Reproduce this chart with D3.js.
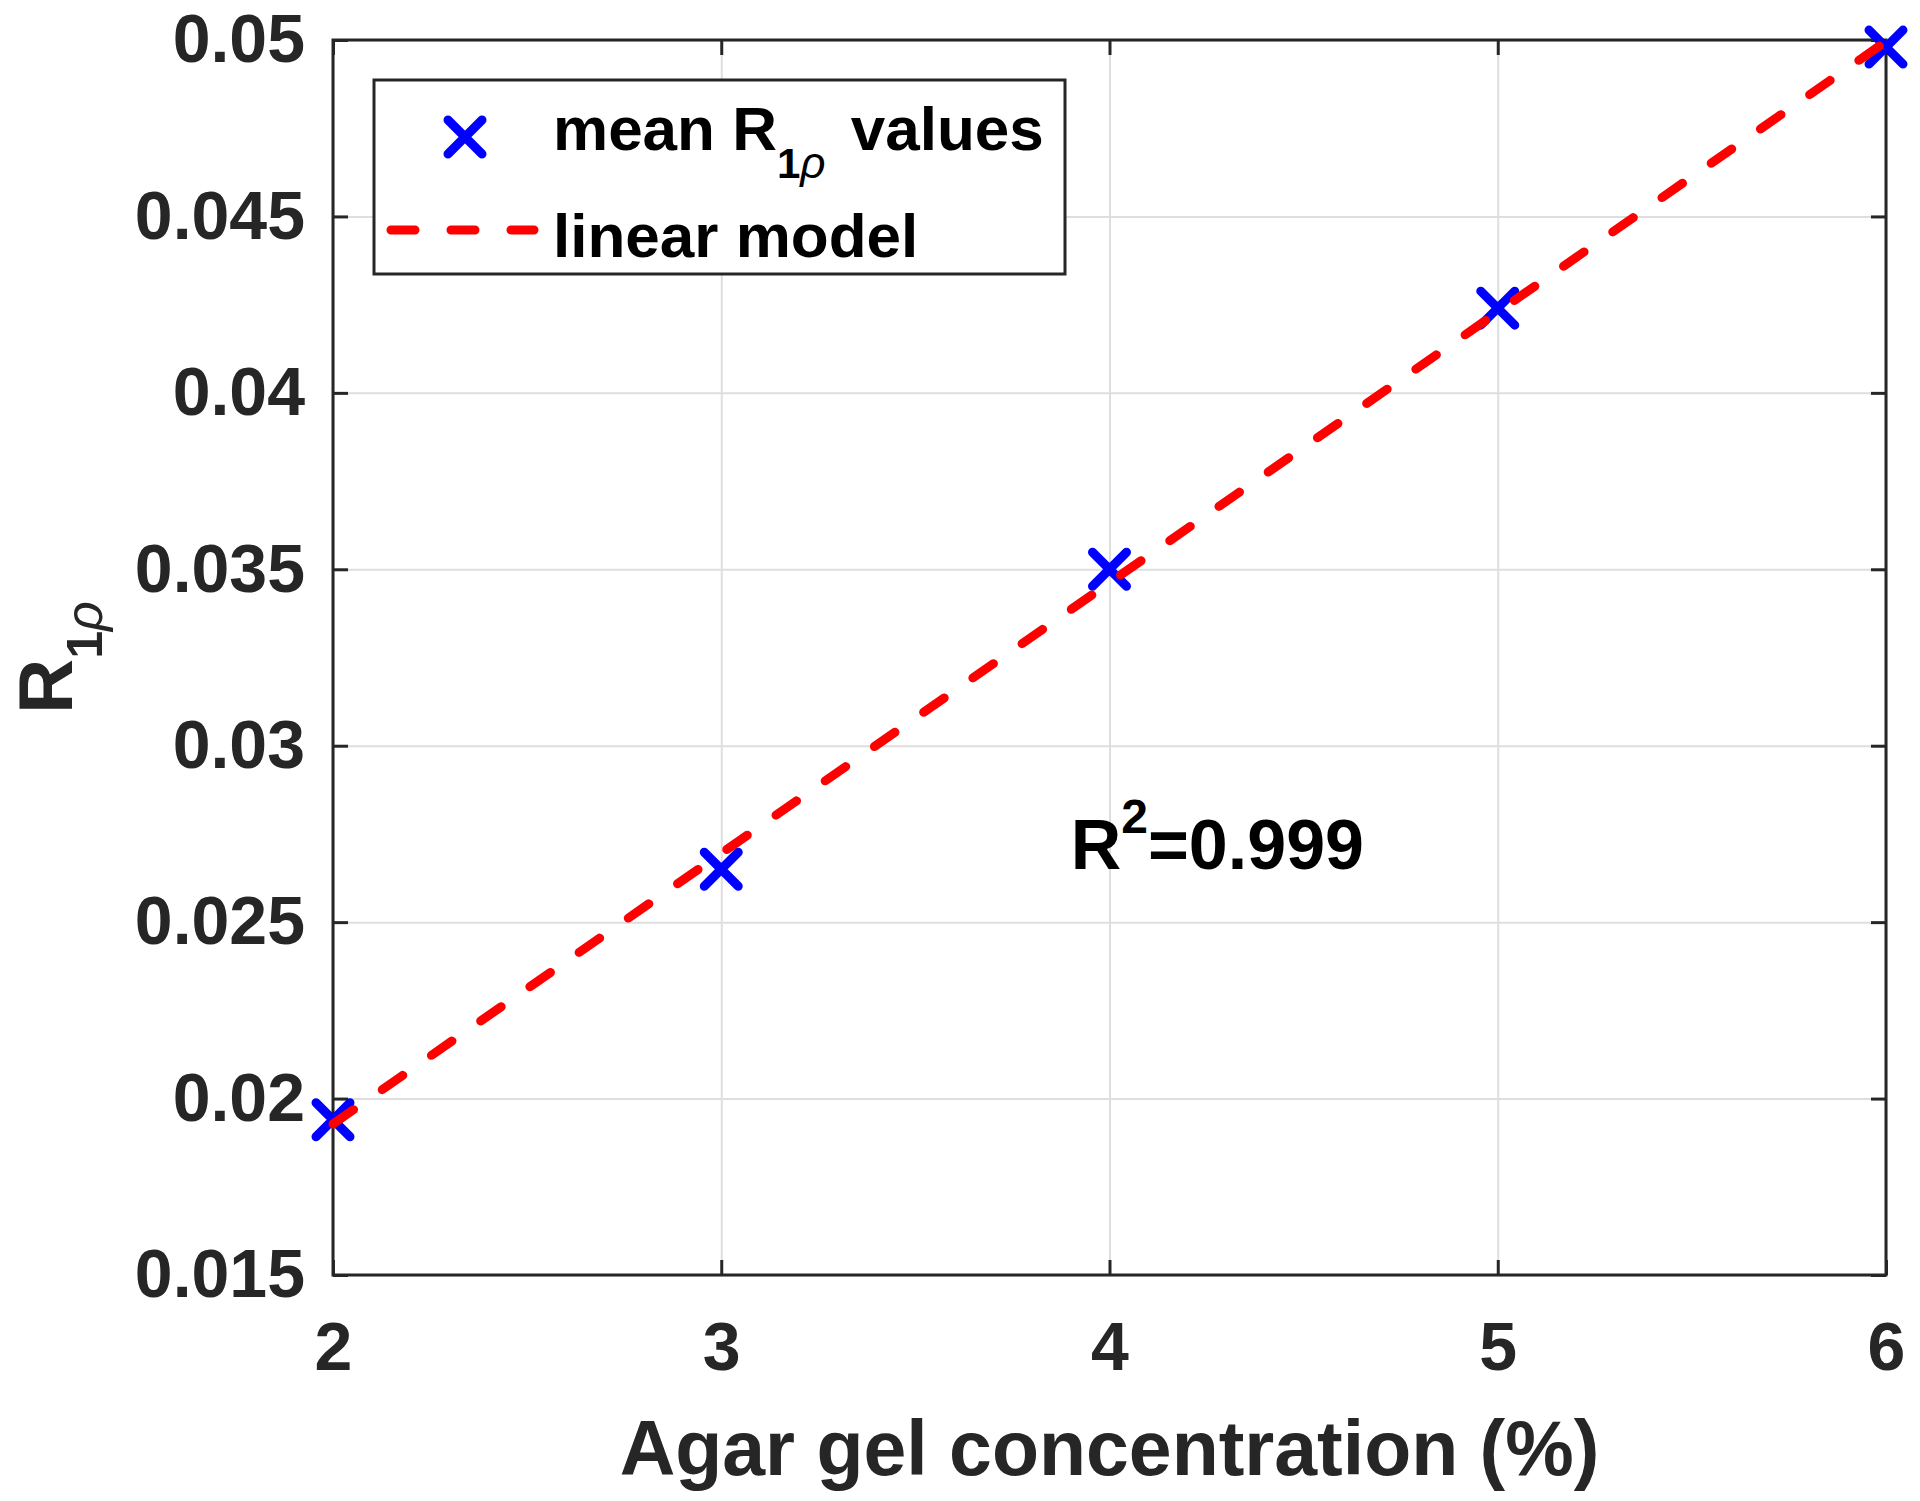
<!DOCTYPE html>
<html>
<head>
<meta charset="utf-8">
<script src="https://cdn.jsdelivr.net/npm/d3@7"></script>
<style>
  html, body { margin: 0; padding: 0; background: #fff; }
  svg { display: block; }
</style>
</head>
<body>
<div id="chart"></div>
<script>
// Agar gel concentration vs mean R1rho, with linear fit
const concentrations = [2, 3, 4, 5, 6];
const meanR1rho = [0.0194, 0.0265, 0.0350, 0.0424, 0.0498];
const xTicks = [2, 3, 4, 5, 6];
const yTicks = [0.015, 0.02, 0.025, 0.03, 0.035, 0.04, 0.045, 0.05];
const yTickLabels = ['0.015', '0.02', '0.025', '0.03', '0.035', '0.04', '0.045', '0.05'];
const r2Text = ['R', '2', '=0.999'];

const width = 1920, height = 1501;
const margin = { top: 40, right: 34, bottom: 226, left: 333 };
const innerW = width - margin.left - margin.right;
const innerH = height - margin.top - margin.bottom;
const font = "'Liberation Sans', Arial, Helvetica, sans-serif";
const axisColor = '#262626';

const svg = d3.select('#chart')
    .append('svg')
    .attr('width', width)
    .attr('height', height)
    .style('background', '#fff');

const g = svg.append('g').attr('transform', `translate(${margin.left},${margin.top})`);

const x = d3.scaleLinear().domain([2, 6]).range([0, innerW]);
const y = d3.scaleLinear().domain([0.015, 0.05]).range([innerH, 0]);

// grid
g.append('g')
    .attr('transform', `translate(0,${innerH})`)
    .call(d3.axisBottom(x).tickValues(xTicks).tickSize(-innerH).tickFormat(''))
    .call(s => s.select('.domain').remove())
    .selectAll('line').attr('stroke', '#dedede').attr('stroke-width', 2);
g.append('g')
    .call(d3.axisLeft(y).tickValues(yTicks).tickSize(-innerW).tickFormat(''))
    .call(s => s.select('.domain').remove())
    .selectAll('line').attr('stroke', '#dedede').attr('stroke-width', 2);

// axes with inward ticks on all sides
const tickLen = 15;
function styleAxis(sel) {
    sel.select('.domain').remove();
    sel.selectAll('line').attr('stroke', axisColor).attr('stroke-width', 3);
    sel.selectAll('text')
        .attr('fill', axisColor)
        .attr('font-family', font)
        .attr('font-weight', 'bold')
        .attr('font-size', 68);
}
g.append('g')
    .attr('transform', `translate(0,${innerH})`)
    .call(d3.axisBottom(x).tickValues(xTicks).tickSize(-tickLen).tickPadding(47).tickFormat(d3.format('d')))
    .call(styleAxis);
g.append('g')
    .call(d3.axisTop(x).tickValues(xTicks).tickSize(-tickLen).tickFormat(''))
    .call(styleAxis);
g.append('g')
    .call(d3.axisLeft(y).tickValues(yTicks).tickSize(-tickLen).tickPadding(28)
        .tickFormat((d, i) => yTickLabels[i]))
    .call(styleAxis);
g.append('g')
    .attr('transform', `translate(${innerW},0)`)
    .call(d3.axisRight(y).tickValues(yTicks).tickSize(-tickLen).tickFormat(''))
    .call(styleAxis);

g.append('rect')
    .attr('width', innerW).attr('height', innerH)
    .attr('fill', 'none')
    .attr('stroke', axisColor)
    .attr('stroke-width', 3);

// linear least-squares fit
const mx = d3.mean(concentrations), my = d3.mean(meanR1rho);
const slope = d3.sum(concentrations, (c, i) => (c - mx) * (meanR1rho[i] - my)) /
    d3.sum(concentrations, c => (c - mx) * (c - mx));
const intercept = my - slope * mx;

// markers
function cross(sel, cx, cy, s) {
    sel.append('path')
        .attr('d', `M${cx - s},${cy - s}L${cx + s},${cy + s}M${cx - s},${cy + s}L${cx + s},${cy - s}`)
        .attr('stroke', '#0000ff')
        .attr('stroke-width', 9)
        .attr('stroke-linecap', 'round')
        .attr('fill', 'none');
}
concentrations.forEach((c, i) => cross(g, x(c), y(meanR1rho[i]), 17));

// model line
const line = d3.line().x(d => x(d)).y(d => y(intercept + slope * d));
g.append('path')
    .datum(d3.extent(concentrations))
    .attr('d', line)
    .attr('fill', 'none')
    .attr('stroke', '#ff0000')
    .attr('stroke-width', 9)
    .attr('stroke-dasharray', '25,35')
    .attr('stroke-linecap', 'round');

// R^2 annotation
const r2 = g.append('text')
    .attr('x', x(3.9))
    .attr('y', y(0.0265))
    .attr('font-family', font)
    .attr('font-weight', 'bold')
    .attr('font-size', 70)
    .attr('fill', '#000');
r2.append('tspan').text(r2Text[0]);
r2.append('tspan').attr('font-size', 48).attr('dy', -36).text(r2Text[1]);
r2.append('tspan').attr('dy', 36).text(r2Text[2]);

// legend
const leg = svg.append('g');
leg.append('rect')
    .attr('x', 374).attr('y', 80)
    .attr('width', 691).attr('height', 194)
    .attr('fill', '#fff')
    .attr('stroke', axisColor)
    .attr('stroke-width', 3);
cross(leg, 465, 137, 17);
leg.append('line')
    .attr('x1', 391).attr('x2', 534)
    .attr('y1', 230).attr('y2', 230)
    .attr('stroke', '#ff0000')
    .attr('stroke-width', 9)
    .attr('stroke-dasharray', '24,36')
    .attr('stroke-linecap', 'round');
const t1 = leg.append('text')
    .attr('x', 553).attr('y', 150)
    .attr('font-family', font).attr('font-weight', 'bold')
    .attr('font-size', 62).attr('fill', '#000');
t1.append('tspan').text('mean R');
t1.append('tspan').attr('font-size', 42).attr('dy', 28).text('1');
t1.append('tspan').attr('font-size', 44).attr('font-style', 'italic').attr('font-weight', 'normal').text('ρ');
t1.append('tspan').attr('dy', -28).attr('dx', 8).text(' values');
leg.append('text')
    .attr('x', 553).attr('y', 257)
    .attr('font-family', font).attr('font-weight', 'bold')
    .attr('font-size', 62).attr('fill', '#000')
    .text('linear model');

// axis titles
svg.append('text')
    .attr('x', margin.left + innerW / 2)
    .attr('y', 1475)
    .attr('text-anchor', 'middle')
    .attr('font-family', font).attr('font-weight', 'bold')
    .attr('font-size', 77).attr('fill', axisColor)
    .text('Agar gel concentration (%)');

const yl = svg.append('text')
    .attr('transform', `translate(72,${margin.top + innerH / 2}) rotate(-90)`)
    .attr('text-anchor', 'middle')
    .attr('font-family', font).attr('font-weight', 'bold')
    .attr('font-size', 76).attr('fill', axisColor);
yl.append('tspan').text('R');
yl.append('tspan').attr('font-size', 50).attr('dy', 30).text('1');
yl.append('tspan').attr('font-size', 52).attr('font-style', 'italic').attr('font-weight', 'normal').text('ρ');
</script>
</body>
</html>
